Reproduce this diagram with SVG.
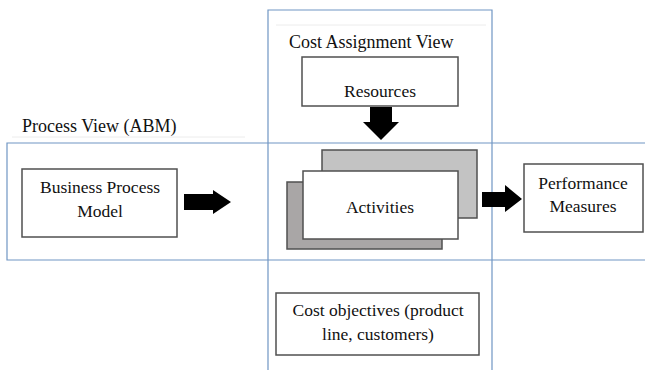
<svg xmlns="http://www.w3.org/2000/svg" width="645" height="370" viewBox="0 0 645 370">
<defs>
<style>
.lane{fill:none;stroke:#7096c4;stroke-width:1.2}
.faint{fill:none;stroke:#ececec;stroke-width:1}
.box{fill:#fff;stroke:#505050;stroke-width:1.5}
.t{font-family:'Liberation Serif','Tinos','Times New Roman','DejaVu Serif',serif;font-size:17.5px;fill:#111;text-anchor:middle}
.lbl{font-family:'Liberation Serif','Tinos','Times New Roman','DejaVu Serif',serif;font-size:18px;fill:#111}
.arrow{fill:#000}
</style>
</defs>
<rect width="645" height="370" fill="#fff"/>
<g id="lanes">
<line class="faint" x1="276" y1="25" x2="486" y2="25"/>
<line class="faint" x1="12" y1="137" x2="245" y2="137"/>
<path class="lane" d="M268,370 V10 H492 V370"/>
<path class="lane" d="M645,143 H7 V260 H645"/>
<text class="lbl" x="289" y="48">Cost Assignment View</text>
<text class="lbl" x="22" y="132">Process View (ABM)</text>
</g>
<g id="resources">
<rect class="box" x="302" y="57" width="156" height="49"/>
<text class="t" x="380" y="97">Resources</text>
</g>
<g id="business-process-model">
<rect class="box" x="22" y="169" width="155" height="68"/>
<text class="t" x="100" y="193">Business Process</text>
<text class="t" x="100" y="217">Model</text>
</g>
<g id="activities">
<rect x="287" y="182" width="155" height="67" fill="#a9a6a6" stroke="#505050" stroke-width="1.5"/>
<rect x="322" y="150" width="155" height="68" fill="#c3c3c3" stroke="#505050" stroke-width="1.5"/>
<rect class="box" x="303" y="171" width="155" height="68"/>
<text class="t" x="380" y="213">Activities</text>
</g>
<g id="performance-measures">
<rect class="box" x="524" y="164" width="119" height="68"/>
<text class="t" x="583" y="189">Performance</text>
<text class="t" x="583" y="212">Measures</text>
</g>
<g id="cost-objectives">
<rect class="box" x="276" y="293" width="203" height="62"/>
<text class="t" x="378" y="316">Cost objectives (product</text>
<text class="t" x="378" y="340">line, customers)</text>
</g>
<g id="connectors">
<polygon class="arrow" points="370,107 392,107 392,122 399,122 381,140 363,122 370,122"/>
<polygon class="arrow" points="184,194 213,194 213,190 231,202 213,214 213,210 184,210"/>
<polygon class="arrow" points="482,192 505,192 505,185 522,199 505,212 505,207 482,207"/>
</g>
</svg>
